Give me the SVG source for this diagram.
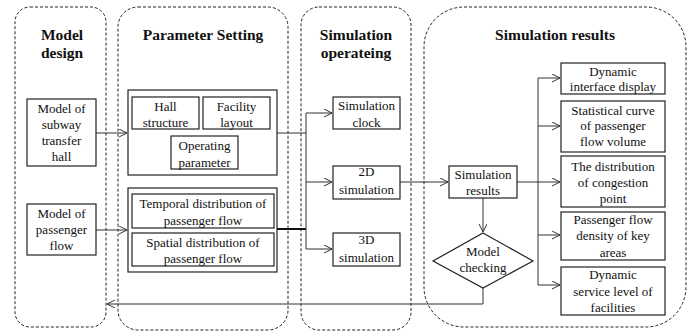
<svg xmlns="http://www.w3.org/2000/svg" width="691" height="334" viewBox="0 0 691 334">
<style>
.cont{fill:none;stroke:#222;stroke-width:1;stroke-dasharray:3,2}
.box{fill:#fff;stroke:#222;stroke-width:1.2}
.t{font-family:'Times New Roman',Times,'Liberation Serif',Tinos,'Noto Serif','DejaVu Serif',serif;font-size:13px;fill:#111;text-anchor:middle}
.h{font-family:'Times New Roman',Times,'Liberation Serif',Tinos,'Noto Serif','DejaVu Serif',serif;font-size:15.5px;font-weight:bold;fill:#111;text-anchor:middle}
.ln{fill:none;stroke:#333;stroke-width:1}
.thick{fill:none;stroke:#111;stroke-width:2}
</style>
<defs>
<marker id="ah" markerWidth="10" markerHeight="10" refX="8" refY="4" orient="auto" markerUnits="userSpaceOnUse">
<path d="M0,0 L8,4 L0,8" fill="none" stroke="#333" stroke-width="1"/>
</marker>
</defs>
<rect width="691" height="334" fill="#fff"/>
<g id="containers">
<rect id="c-model-design" class="cont" x="15" y="7" width="91" height="320" rx="15"/>
<rect id="c-param" class="cont" x="118" y="7" width="170" height="323" rx="20"/>
<rect id="c-simop" class="cont" x="301" y="7" width="110" height="323" rx="18"/>
<rect id="c-results" class="cont" x="424" y="7" width="262" height="320" rx="40"/>
<text class="h" x="62" y="40">Model</text>
<text class="h" x="62" y="58">design</text>
<text class="h" x="203" y="40">Parameter Setting</text>
<text class="h" x="356" y="40">Simulation</text>
<text class="h" x="356" y="58">operateing</text>
<text class="h" x="555" y="40">Simulation results</text>
</g>
<g id="connectors">
<line class="ln" x1="96" y1="133" x2="127" y2="133" marker-end="url(#ah)"/>
<line class="ln" x1="96" y1="230" x2="127" y2="230" marker-end="url(#ah)"/>
<line class="ln" x1="277" y1="133" x2="306" y2="133"/>
<line class="thick" x1="277" y1="229" x2="306" y2="229"/>
<line class="ln" x1="306" y1="113" x2="306" y2="249"/>
<line class="ln" x1="306" y1="113" x2="332" y2="113" marker-end="url(#ah)"/>
<line class="ln" x1="306" y1="182" x2="332" y2="182" marker-end="url(#ah)"/>
<line class="ln" x1="306" y1="249" x2="332" y2="249" marker-end="url(#ah)"/>
<line class="ln" x1="400" y1="182" x2="448" y2="182" marker-end="url(#ah)"/>
<line class="ln" x1="483" y1="198" x2="483" y2="232" marker-end="url(#ah)"/>
<polyline class="ln" points="483,288 483,304 107,304" marker-end="url(#ah)"/>
<line class="ln" x1="517" y1="182" x2="538" y2="182"/>
<line class="ln" x1="538" y1="78" x2="538" y2="285"/>
<line class="ln" x1="538" y1="78" x2="560" y2="78" marker-end="url(#ah)"/>
<line class="ln" x1="538" y1="126" x2="560" y2="126" marker-end="url(#ah)"/>
<line class="ln" x1="538" y1="182" x2="560" y2="182" marker-end="url(#ah)"/>
<line class="ln" x1="538" y1="235" x2="560" y2="235" marker-end="url(#ah)"/>
<line class="ln" x1="538" y1="285" x2="560" y2="285" marker-end="url(#ah)"/>
</g>
<g id="n-subway-hall">
<rect class="box" x="27" y="99" width="69" height="67"/>
<text class="t" x="61.5" y="113">Model of</text>
<text class="t" x="61.5" y="129">subway</text>
<text class="t" x="61.5" y="145">transfer</text>
<text class="t" x="61.5" y="161">hall</text>
</g>
<g id="n-passenger-model">
<rect class="box" x="27" y="204" width="69" height="51"/>
<text class="t" x="61.5" y="218">Model of</text>
<text class="t" x="61.5" y="234">passenger</text>
<text class="t" x="61.5" y="250">flow</text>
</g>
<g id="n-param-upper">
<rect class="box" x="128" y="90" width="149" height="85"/>
</g>
<g id="n-hall-structure">
<rect class="box" x="132" y="97" width="67" height="32"/>
<text class="t" x="165.5" y="111">Hall</text>
<text class="t" x="165.5" y="127">structure</text>
</g>
<g id="n-facility-layout">
<rect class="box" x="203" y="97" width="67" height="32"/>
<text class="t" x="236.5" y="111">Facility</text>
<text class="t" x="236.5" y="127">layout</text>
</g>
<g id="n-operating">
<rect class="box" x="171" y="136" width="67" height="33"/>
<text class="t" x="204.5" y="150">Operating</text>
<text class="t" x="204.5" y="167">parameter</text>
</g>
<g id="n-param-lower">
<rect class="box" x="128" y="188" width="149" height="84"/>
</g>
<g id="n-temporal">
<rect class="box" x="132" y="194" width="142" height="34"/>
<text class="t" x="203" y="208">Temporal distribution of</text>
<text class="t" x="203" y="225">passenger flow</text>
</g>
<g id="n-spatial">
<rect class="box" x="132" y="233" width="142" height="33"/>
<text class="t" x="203" y="247">Spatial distribution of</text>
<text class="t" x="203" y="263">passenger flow</text>
</g>
<g id="n-sim-clock">
<rect class="box" x="333" y="97" width="67" height="32"/>
<text class="t" x="366.5" y="110">Simulation</text>
<text class="t" x="366.5" y="127">clock</text>
</g>
<g id="n-2d">
<rect class="box" x="333" y="166" width="67" height="33"/>
<text class="t" x="366.5" y="176">2D</text>
<text class="t" x="366.5" y="194">simulation</text>
</g>
<g id="n-3d">
<rect class="box" x="333" y="233" width="67" height="33"/>
<text class="t" x="366.5" y="244">3D</text>
<text class="t" x="366.5" y="262">simulation</text>
</g>
<g id="n-sim-results">
<rect class="box" x="449" y="166" width="68" height="32"/>
<text class="t" x="483" y="179">Simulation</text>
<text class="t" x="483" y="195">results</text>
</g>
<g id="n-model-checking">
<polygon class="box" points="483,233 533,261 483,288 433,261"/>
<text class="t" x="483" y="256">Model</text>
<text class="t" x="483" y="272">checking</text>
</g>
<g id="n-dynamic-interface">
<rect class="box" x="561" y="63" width="104" height="31"/>
<text class="t" x="613" y="76">Dynamic</text>
<text class="t" x="613" y="91">interface display</text>
</g>
<g id="n-statistical">
<rect class="box" x="561" y="101" width="104" height="51"/>
<text class="t" x="613" y="115">Statistical curve</text>
<text class="t" x="613" y="130">of passenger</text>
<text class="t" x="613" y="146">flow volume</text>
</g>
<g id="n-congestion">
<rect class="box" x="561" y="156" width="104" height="51"/>
<text class="t" x="613" y="171">The distribution</text>
<text class="t" x="613" y="187">of congestion</text>
<text class="t" x="613" y="203">point</text>
</g>
<g id="n-density">
<rect class="box" x="561" y="212" width="104" height="48"/>
<text class="t" x="613" y="224">Passenger  flow</text>
<text class="t" x="613" y="240">density of  key</text>
<text class="t" x="613" y="257">areas</text>
</g>
<g id="n-service">
<rect class="box" x="561" y="267" width="104" height="48"/>
<text class="t" x="613" y="279">Dynamic</text>
<text class="t" x="613" y="296">service level of</text>
<text class="t" x="613" y="312">facilities</text>
</g>
</svg>
